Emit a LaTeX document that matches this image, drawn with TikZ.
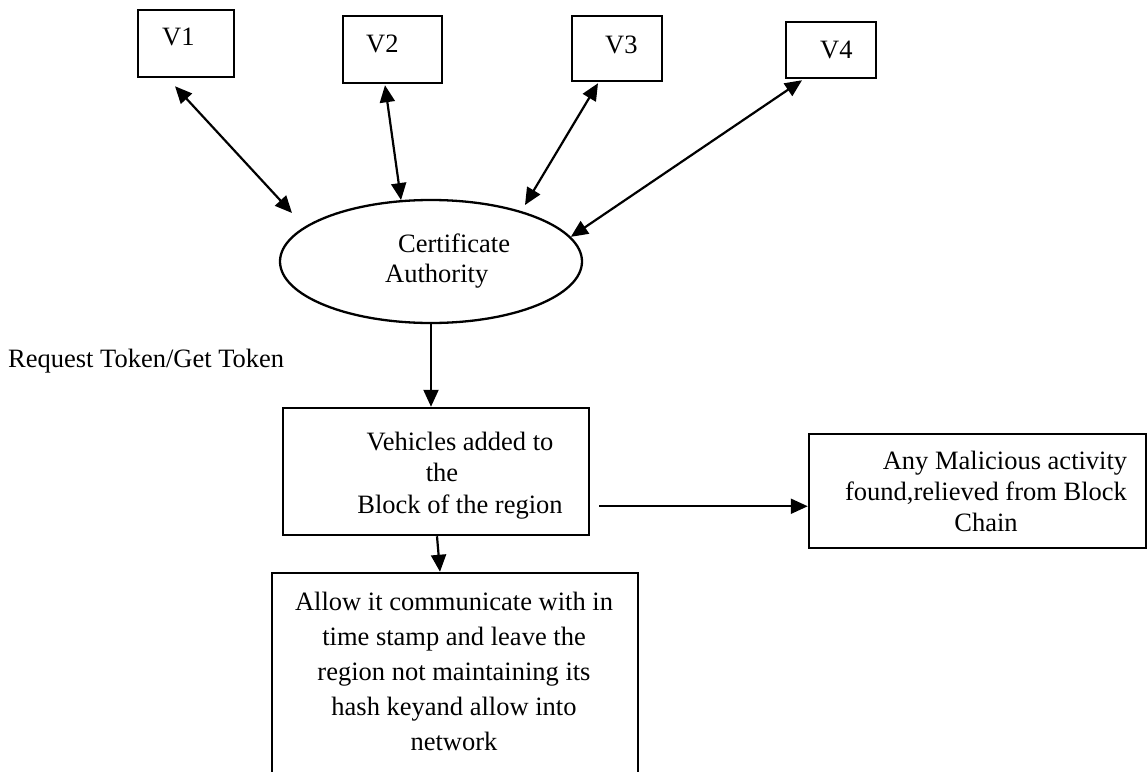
\documentclass[tikz,border=0pt]{standalone}
\usepackage{fontspec}
\setmainfont{Liberation Serif}
\usetikzlibrary{arrows.meta,calc,shapes.geometric}
\begin{document}
\begin{tikzpicture}[x=1pt,y=-1pt,
  box/.style={draw, rectangle, line width=2.5pt, inner sep=0pt},
  ell/.style={draw, ellipse, line width=2.3pt, inner sep=0pt},
  txt/.style={inner sep=0pt, font=\fontsize{26.5pt}{31pt}\selectfont},
  arr/.style={line width=2.2pt, -{Triangle[length=17pt,width=15pt]}},
  darr/.style={line width=2.2pt, {Triangle[length=17pt,width=15pt]}-{Triangle[length=17pt,width=15pt]}}
]
\clip (0,0) rectangle (1148,771);
\fill[white] (0,0) rectangle (1148,771);

% vehicle boxes
\node[box, minimum width=96pt, minimum height=67pt] (v1) at (186,43.5) {};
\node[box, minimum width=99pt, minimum height=67pt] (v2) at (392.5,49.5) {};
\node[box, minimum width=90pt, minimum height=65pt] (v3) at (617,48.5) {};
\node[box, minimum width=90pt, minimum height=56pt] (v4) at (831,50) {};
\node[txt, anchor=base west] (v1t) at (162,45) {V1};
\node[txt, anchor=base west] (v2t) at (366,52) {V2};
\node[txt, anchor=base west] (v3t) at (605,53) {V3};
\node[txt, anchor=base west] (v4t) at (820,58) {V4};

% certificate authority
\node[ell, minimum width=302pt, minimum height=123pt] (ca) at (431,261.5) {};
\node[txt, anchor=west, align=left, font=\fontsize{26.5pt}{30pt}\selectfont] (cat) at (385,260.8)
  {\null\hspace{13pt}Certificate\\Authority};

% label
\node[txt, anchor=base west] (req) at (8,367) {Request Token/Get Token};

% vehicles block
\node[box, minimum width=306pt, minimum height=127pt] (veh) at (436,471.5) {};
\node[txt, align=center, font=\fontsize{26.5pt}{31.5pt}\selectfont] (veht) at (460,475.3)
  {Vehicles added to\\the\hspace{36pt}\null\\Block of the region};

% malicious
\node[box, minimum width=337pt, minimum height=114pt] (mal) at (977.5,491) {};
\node[txt, align=center, font=\fontsize{26.5pt}{31pt}\selectfont] (malt) at (986,491)
  {\null\hspace{38pt}Any Malicious activity\\found,relieved from Block\\Chain};

% allow box (runs past the bottom edge)
\node[box, minimum width=366pt, minimum height=227pt] (allow) at (455,686.5) {};
\node[txt, align=center, font=\fontsize{26.5pt}{35pt}\selectfont] (allowt) at (454,671)
  {Allow it communicate with in\\time stamp and leave the\\region not maintaining its\\hash keyand allow into\\network};

% connectors
\coordinate (e1) at (292,213);
\coordinate (e3) at (525,205);
\draw[darr] ($(v1.south)+(-11,8)$) -- (e1);
\draw[darr] ($(v2.south)+(-7.5,1)$) -- (ca.116);
\draw[darr] ($(v3.south)+(-19,1)$) -- (e3);
\draw[darr] ($(v4.south)+(-29,1)$) -- (ca.10);
\draw[arr] (ca.south) -- (ca.south |- veh.north);
\draw[arr] ($(veh.south east)+(9,-30)$) -- ($(mal.west |- veh.south east)+(0,-30)$);
\draw[arr] ($(veh.south)+(1,0)$) -- ($(allow.north)+(-15,0)$);
\end{tikzpicture}
\end{document}
